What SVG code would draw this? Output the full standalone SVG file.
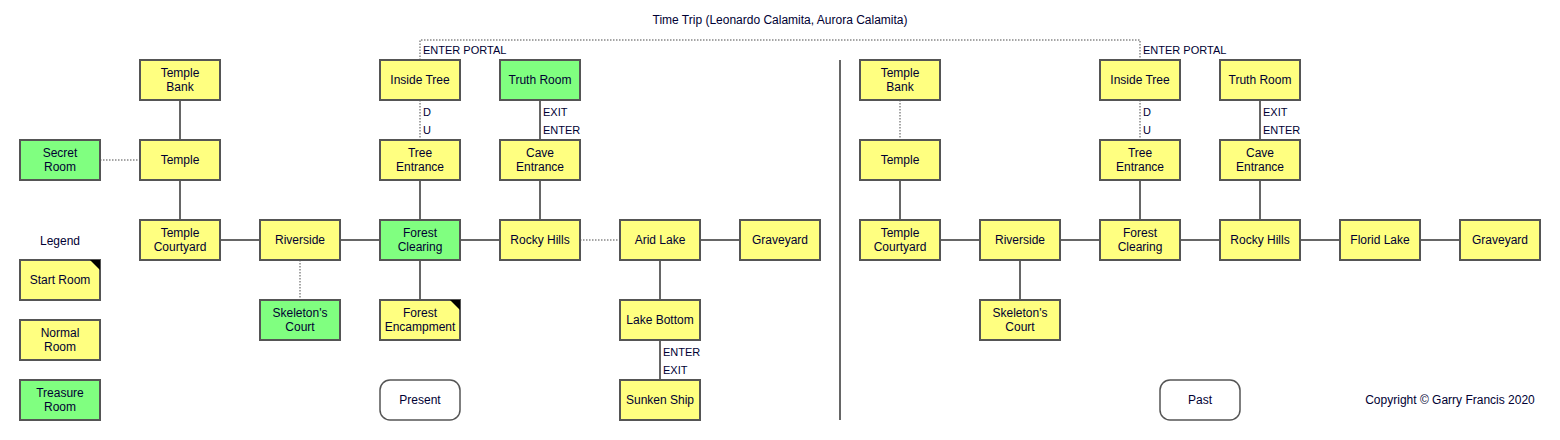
<svg xmlns="http://www.w3.org/2000/svg" width="1560" height="440" viewBox="0 0 1560 440">
<style>
text{font-family:"Liberation Sans",Arial,sans-serif;font-size:12px;fill:#000033}
.n rect{fill:#ffff80;stroke:#555;stroke-width:2}
.g rect{fill:#80ff80}
.c line,.c polyline{stroke:#666;stroke-width:2;fill:none}
.c .d{stroke:#888;stroke-width:1.5;stroke-dasharray:1.5 1.5}
.m{text-anchor:middle}
.lab{font-size:11px}
</style>
<rect width="1560" height="440" fill="#fff"/>
<g class="c">
<line x1="180" y1="100" x2="180" y2="140"/>
<line class="d" x1="100" y1="160" x2="140" y2="160"/>
<line x1="180" y1="180" x2="180" y2="220"/>
<line x1="220" y1="240" x2="260" y2="240"/>
<line x1="340" y1="240" x2="380" y2="240"/>
<line x1="460" y1="240" x2="500" y2="240"/>
<line class="d" x1="580" y1="240" x2="620" y2="240"/>
<line x1="700" y1="240" x2="740" y2="240"/>
<line class="d" x1="300" y1="260" x2="300" y2="300"/>
<line x1="420" y1="260" x2="420" y2="300"/>
<line x1="420" y1="180" x2="420" y2="220"/>
<line class="d" x1="420" y1="100" x2="420" y2="140"/>
<line x1="540" y1="100" x2="540" y2="140"/>
<line x1="540" y1="180" x2="540" y2="220"/>
<line x1="660" y1="260" x2="660" y2="300"/>
<line x1="660" y1="340" x2="660" y2="380"/>
<polyline class="d" points="420,60 420,40 1140,40 1140,60"/>
<line class="d" x1="900" y1="100" x2="900" y2="140"/>
<line x1="900" y1="180" x2="900" y2="220"/>
<line x1="940" y1="240" x2="980" y2="240"/>
<line x1="1060" y1="240" x2="1100" y2="240"/>
<line x1="1180" y1="240" x2="1220" y2="240"/>
<line x1="1300" y1="240" x2="1340" y2="240"/>
<line x1="1420" y1="240" x2="1460" y2="240"/>
<line x1="1020" y1="260" x2="1020" y2="300"/>
<line class="d" x1="1140" y1="100" x2="1140" y2="140"/>
<line x1="1140" y1="180" x2="1140" y2="220"/>
<line x1="1260" y1="100" x2="1260" y2="140"/>
<line x1="1260" y1="180" x2="1260" y2="220"/>
<line x1="840" y1="60" x2="840" y2="420" stroke="#555"/>
</g>
<g class="lab">
<text x="423" y="54" class="lab">ENTER PORTAL</text>
<text x="1143" y="54" class="lab">ENTER PORTAL</text>
<text x="423" y="116" class="lab">D</text><text x="423" y="134" class="lab">U</text>
<text x="543" y="116" class="lab">EXIT</text><text x="543" y="134" class="lab">ENTER</text>
<text x="1143" y="116" class="lab">D</text><text x="1143" y="134" class="lab">U</text>
<text x="1263" y="116" class="lab">EXIT</text><text x="1263" y="134" class="lab">ENTER</text>
<text x="663" y="356" class="lab">ENTER</text><text x="663" y="374" class="lab">EXIT</text>
</g>
<text x="780" y="24" class="m">Time Trip (Leonardo Calamita, Aurora Calamita)</text>
<text x="60" y="245" class="m">Legend</text>
<text x="1450" y="404" class="m">Copyright © Garry Francis 2020</text>
<g id="legend-start" class="n"><rect x="20" y="260" width="80" height="40"/><polygon points="90,260 100,260 100,270" fill="#000"/><text x="60" y="284" class="m">Start Room</text></g>
<g id="legend-normal" class="n"><rect x="20" y="320" width="80" height="40"/><text x="60" y="337" class="m">Normal</text><text x="60" y="351" class="m">Room</text></g>
<g id="legend-treasure" class="n g"><rect x="20" y="380" width="80" height="40"/><text x="60" y="397" class="m">Treasure</text><text x="60" y="411" class="m">Room</text></g>
<g id="p-templebank" class="n"><rect x="140" y="60" width="80" height="40"/><text x="180" y="77" class="m">Temple</text><text x="180" y="91" class="m">Bank</text></g>
<g id="p-secret" class="n g"><rect x="20" y="140" width="80" height="40"/><text x="60" y="157" class="m">Secret</text><text x="60" y="171" class="m">Room</text></g>
<g id="p-temple" class="n"><rect x="140" y="140" width="80" height="40"/><text x="180" y="164" class="m">Temple</text></g>
<g id="p-courtyard" class="n"><rect x="140" y="220" width="80" height="40"/><text x="180" y="237" class="m">Temple</text><text x="180" y="251" class="m">Courtyard</text></g>
<g id="p-riverside" class="n"><rect x="260" y="220" width="80" height="40"/><text x="300" y="244" class="m">Riverside</text></g>
<g id="p-skeleton" class="n g"><rect x="260" y="300" width="80" height="40"/><text x="300" y="317" class="m">Skeleton's</text><text x="300" y="331" class="m">Court</text></g>
<g id="p-insidetree" class="n"><rect x="380" y="60" width="80" height="40"/><text x="420" y="84" class="m">Inside Tree</text></g>
<g id="p-treeentrance" class="n"><rect x="380" y="140" width="80" height="40"/><text x="420" y="157" class="m">Tree</text><text x="420" y="171" class="m">Entrance</text></g>
<g id="p-forestclearing" class="n g"><rect x="380" y="220" width="80" height="40"/><text x="420" y="237" class="m">Forest</text><text x="420" y="251" class="m">Clearing</text></g>
<g id="p-encampment" class="n"><rect x="380" y="300" width="80" height="40"/><polygon points="450,300 460,300 460,310" fill="#000"/><text x="420" y="317" class="m">Forest</text><text x="420" y="331" class="m">Encampment</text></g>
<g id="p-truth" class="n g"><rect x="500" y="60" width="80" height="40"/><text x="540" y="84" class="m">Truth Room</text></g>
<g id="p-cave" class="n"><rect x="500" y="140" width="80" height="40"/><text x="540" y="157" class="m">Cave</text><text x="540" y="171" class="m">Entrance</text></g>
<g id="p-rocky" class="n"><rect x="500" y="220" width="80" height="40"/><text x="540" y="244" class="m">Rocky Hills</text></g>
<g id="p-arid" class="n"><rect x="620" y="220" width="80" height="40"/><text x="660" y="244" class="m">Arid Lake</text></g>
<g id="p-graveyard" class="n"><rect x="740" y="220" width="80" height="40"/><text x="780" y="244" class="m">Graveyard</text></g>
<g id="p-lakebottom" class="n"><rect x="620" y="300" width="80" height="40"/><text x="660" y="324" class="m">Lake Bottom</text></g>
<g id="p-sunken" class="n"><rect x="620" y="380" width="80" height="40"/><text x="660" y="404" class="m">Sunken Ship</text></g>
<g id="present"><rect x="380" y="380" width="80" height="40" rx="10" fill="#fff" stroke="#555" stroke-width="1.5"/><text x="420" y="404" class="m">Present</text></g>
<g id="f-templebank" class="n"><rect x="860" y="60" width="80" height="40"/><text x="900" y="77" class="m">Temple</text><text x="900" y="91" class="m">Bank</text></g>
<g id="f-temple" class="n"><rect x="860" y="140" width="80" height="40"/><text x="900" y="164" class="m">Temple</text></g>
<g id="f-courtyard" class="n"><rect x="860" y="220" width="80" height="40"/><text x="900" y="237" class="m">Temple</text><text x="900" y="251" class="m">Courtyard</text></g>
<g id="f-riverside" class="n"><rect x="980" y="220" width="80" height="40"/><text x="1020" y="244" class="m">Riverside</text></g>
<g id="f-skeleton" class="n"><rect x="980" y="300" width="80" height="40"/><text x="1020" y="317" class="m">Skeleton's</text><text x="1020" y="331" class="m">Court</text></g>
<g id="f-insidetree" class="n"><rect x="1100" y="60" width="80" height="40"/><text x="1140" y="84" class="m">Inside Tree</text></g>
<g id="f-treeentrance" class="n"><rect x="1100" y="140" width="80" height="40"/><text x="1140" y="157" class="m">Tree</text><text x="1140" y="171" class="m">Entrance</text></g>
<g id="f-forestclearing" class="n"><rect x="1100" y="220" width="80" height="40"/><text x="1140" y="237" class="m">Forest</text><text x="1140" y="251" class="m">Clearing</text></g>
<g id="f-truth" class="n"><rect x="1220" y="60" width="80" height="40"/><text x="1260" y="84" class="m">Truth Room</text></g>
<g id="f-cave" class="n"><rect x="1220" y="140" width="80" height="40"/><text x="1260" y="157" class="m">Cave</text><text x="1260" y="171" class="m">Entrance</text></g>
<g id="f-rocky" class="n"><rect x="1220" y="220" width="80" height="40"/><text x="1260" y="244" class="m">Rocky Hills</text></g>
<g id="f-florid" class="n"><rect x="1340" y="220" width="80" height="40"/><text x="1380" y="244" class="m">Florid Lake</text></g>
<g id="f-graveyard" class="n"><rect x="1460" y="220" width="80" height="40"/><text x="1500" y="244" class="m">Graveyard</text></g>
<g id="past"><rect x="1160" y="380" width="80" height="40" rx="10" fill="#fff" stroke="#555" stroke-width="1.5"/><text x="1200" y="404" class="m">Past</text></g>
</svg>
